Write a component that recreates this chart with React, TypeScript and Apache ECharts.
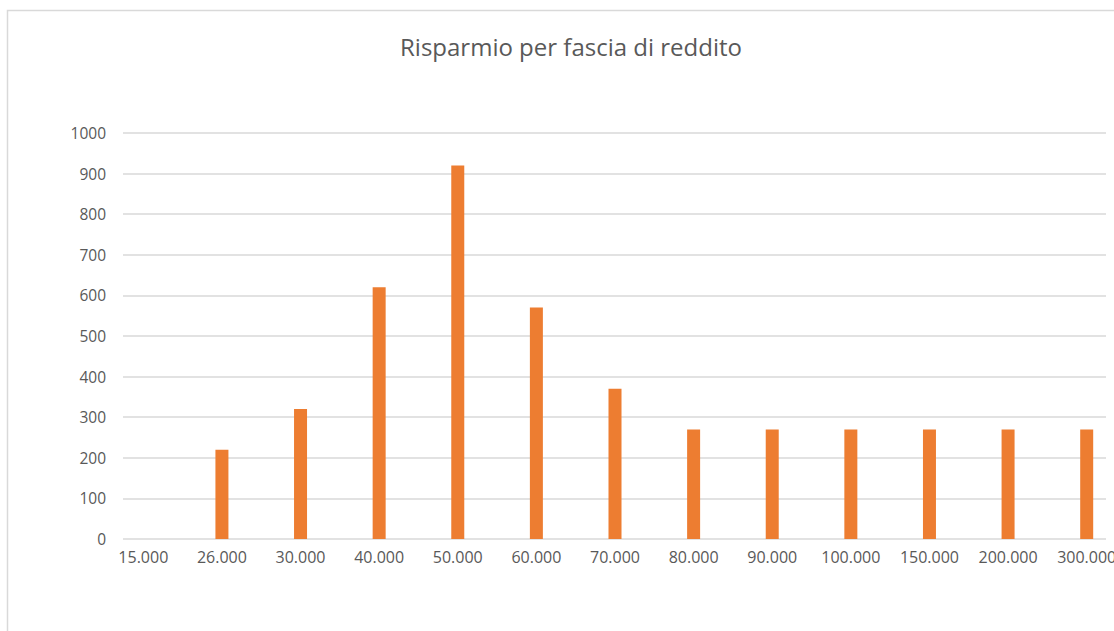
import React, { useEffect, useRef } from "react";
import * as echarts from "echarts";

const categories = ["15.000", "26.000", "30.000", "40.000", "50.000", "60.000", "70.000", "80.000", "90.000", "100.000", "150.000", "200.000", "300.000"];
const savings = [0, 220, 320, 620, 920, 570, 370, 270, 270, 270, 270, 270, 270];
const yTicks = { min: 0, max: 1000, interval: 100 };
const titleText = "Risparmio per fascia di reddito";

const CHART_W = 1160;

export default function App() {
  const ref = useRef<HTMLDivElement>(null);
  useEffect(() => {
    if (!ref.current) return;
    const chart = echarts.init(ref.current, null, { renderer: "svg" });
    const font = "'Open Sans', sans-serif";
    chart.setOption({
      animation: false,
      backgroundColor: "#ffffff",
      title: {
        text: titleText,
        left: 566,
        top: 29,
        textAlign: "center",
        textStyle: { fontFamily: font, fontSize: 24, fontWeight: "normal", color: "#595959" },
      },
      graphic: [
        {
          type: "rect",
          shape: { x: 7.5, y: 10.5, width: 1300, height: 700 },
          style: { fill: "none", stroke: "#d9d9d9", lineWidth: 1.5 },
          silent: true,
        },
      ],
      grid: [
        { left: 123, right: CHART_W - 1106, top: 133, bottom: 92 },
        { left: 104, width: 1022, top: 133, bottom: 92 },
      ],
      xAxis: [
        { gridIndex: 0, type: "value", show: false, min: 0, max: 1 },
        {
          gridIndex: 1,
          type: "category",
          data: categories,
          axisLine: { show: false },
          axisTick: { show: false },
          axisLabel: { color: "#595959", fontFamily: font, fontSize: 16, margin: 10 },
        },
      ],
      yAxis: [
        {
          gridIndex: 0,
          type: "value",
          min: yTicks.min,
          max: yTicks.max,
          interval: yTicks.interval,
          axisLine: { show: false },
          axisTick: { show: false },
          axisLabel: {
            color: "#595959",
            fontFamily: font,
            fontSize: 15.5,
            margin: 17,
            formatter: (v: number) => String(v),
          },
          splitLine: { lineStyle: { color: "#d9d9d9", width: 1.5 } },
        },
        {
          gridIndex: 1,
          type: "value",
          min: yTicks.min,
          max: yTicks.max,
          interval: yTicks.interval,
          show: false,
          splitLine: { show: false },
        },
      ],
      series: [
        {
          type: "bar",
          xAxisIndex: 1,
          yAxisIndex: 1,
          data: savings,
          barWidth: 13,
          itemStyle: { color: "#ED7D31" },
        },
      ],
    });
    return () => chart.dispose();
  }, []);
  return (
    <div style={{ position: "absolute", left: 0, top: 0, width: 1114, height: 631, overflow: "hidden" }}>
      <div ref={ref} style={{ width: CHART_W, height: 631 }} />
    </div>
  );
}
